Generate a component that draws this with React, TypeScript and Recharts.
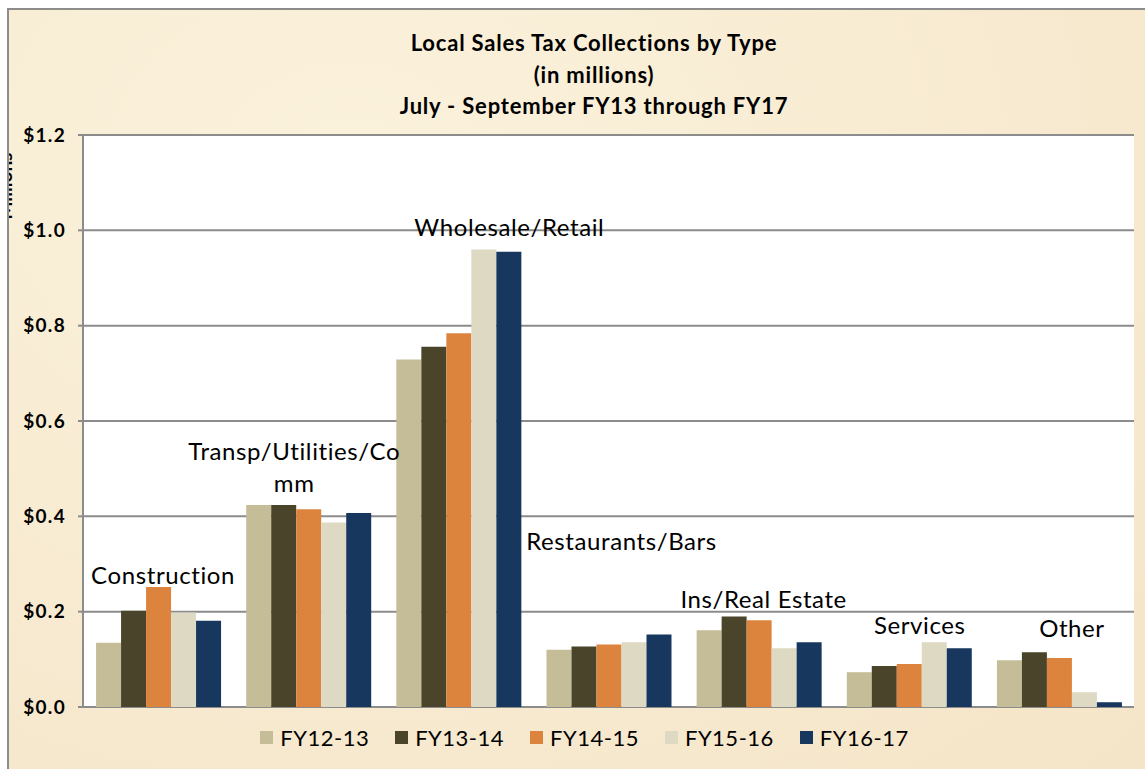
import React from 'react';
import { BarChart, Bar, XAxis, YAxis, CartesianGrid, Legend, ReferenceDot } from 'recharts';

const categories = ['Construction', 'Transp/Utilities/Comm', 'Wholesale/Retail', 'Restaurants/Bars', 'Ins/Real Estate', 'Services', 'Other'];
const fy1213 = [0.135, 0.424, 0.729, 0.120, 0.161, 0.073, 0.098];
const fy1314 = [0.202, 0.424, 0.756, 0.127, 0.190, 0.086, 0.115];
const fy1415 = [0.252, 0.415, 0.784, 0.131, 0.182, 0.090, 0.103];
const fy1516 = [0.198, 0.387, 0.960, 0.136, 0.123, 0.136, 0.031];
const fy1617 = [0.181, 0.407, 0.955, 0.152, 0.136, 0.123, 0.010];
const yTicks = [0, 0.2, 0.4, 0.6, 0.8, 1.0, 1.2];

// category-name labels as Excel placed them (level in $M, wrapped lines)
const labelLevels = [0.279, 0.505, 1.009, 0.350, 0.227, 0.174, 0.166];
const labelLines = [['Construction'], ['Transp/Utilities/Co', 'mm'], ['Wholesale/Retail'], ['Restaurants/Bars'], ['Ins/Real Estate'], ['Services'], ['Other']];
// horizontal nudge of those labels, px
const labelShift = [5, -14, 51, 13, 5, 11, 13];

const series = [
  { key: 'fy1213', name: 'FY12-13', color: '#C4BD97' },
  { key: 'fy1314', name: 'FY13-14', color: '#4A452A' },
  { key: 'fy1415', name: 'FY14-15', color: '#DC843E' },
  { key: 'fy1516', name: 'FY15-16', color: '#DDD9C3' },
  { key: 'fy1617', name: 'FY16-17', color: '#17375E' },
];

const data = categories.map((c, i) => ({
  category: c,
  fy1213: fy1213[i],
  fy1314: fy1314[i],
  fy1415: fy1415[i],
  fy1516: fy1516[i],
  fy1617: fy1617[i],
}));

const FONT = 'Lato, "Open Sans", sans-serif';
const GRID = '#8c8c8c';

const CategoryLabel = ({ cx, cy, lines, dx }: { cx: number; cy: number; lines: string[]; dx: number }) => (
  <g>
    {lines.map((t, k) => (
      <text
        key={t}
        x={cx + dx}
        y={cy + (k - (lines.length - 1) / 2) * 32}
        textAnchor="middle"
        dominantBaseline="central"
        fontFamily={FONT}
        fontSize={24}
        letterSpacing={0.6}
        fill="#000"
      >
        {t}
      </text>
    ))}
  </g>
);

const LegendBox = () => (
  <div
    style={{
      display: 'flex', justifyContent: 'center', alignItems: 'center', gap: 26,
      height: 50, paddingTop: 10, paddingLeft: 26, boxSizing: 'border-box',
      fontFamily: FONT, fontSize: 22, letterSpacing: 0.5, color: '#000',
    }}
  >
    {series.map((s) => (
      <span key={s.key} style={{ display: 'flex', alignItems: 'center' }}>
        <span style={{ width: 13, height: 13, background: s.color, marginRight: 7, display: 'inline-block' }} />
        {s.name}
      </span>
    ))}
  </div>
);

const App: React.FC = () => (
  <div
    style={{
      position: 'absolute', left: 7, top: 8, width: 1138, height: 761, overflow: 'hidden',
      background: 'radial-gradient(ellipse at 30% 20%, #fbf2dc 0%, #f7ead0 60%, #f5e5c8 100%)',
      borderLeft: `2px solid ${GRID}`, borderTop: `2px solid ${GRID}`, boxSizing: 'border-box',
    }}
  >
    <BarChart
      width={1136}
      height={759}
      data={data}
      margin={{ top: 125, right: 11, left: 0, bottom: 12 }}
      barCategoryGap="8.7%"
      barGap={0}
    >
      <CartesianGrid vertical={false} stroke={GRID} strokeWidth={2} fill="#fff" />
      <XAxis dataKey="category" tick={false} tickLine={false} height={0} axisLine={{ stroke: GRID, strokeWidth: 2 }} />
      <YAxis
        width={74}
        domain={[0, 1.2]}
        ticks={yTicks}
        interval={0}
        tickFormatter={(v: number) => `$${v.toFixed(1)}`}
        tick={{ fontFamily: FONT, fontSize: 19, fontWeight: 700, fill: '#000', letterSpacing: 1.3 }}
        tickSize={5}
        tickMargin={12}
        tickLine={{ stroke: GRID, strokeWidth: 2 }}
        axisLine={{ stroke: GRID, strokeWidth: 2 }}
        label={{
          content: () => (
            <text transform="rotate(-90, 3, 176)" x={3} y={176} textAnchor="middle" fontFamily={FONT} fontSize={19} fontWeight={700} fill="#000">
              Millions
            </text>
          ),
        }}
      />
      <Legend verticalAlign="bottom" content={LegendBox} />
      {series.map((s) => (
        <Bar key={s.key} dataKey={s.key} name={s.name} fill={s.color} isAnimationActive={false} />
      ))}
      {categories.map((c, i) => (
        <ReferenceDot
          key={c}
          x={c}
          y={labelLevels[i]}
          r={1}
          ifOverflow="visible"
          shape={(p: any) => <CategoryLabel cx={p.cx} cy={p.cy} lines={labelLines[i]} dx={labelShift[i]} />}
        />
      ))}
    </BarChart>
    <div
      style={{
        position: 'absolute', left: 0, top: 17, width: 1170, textAlign: 'center',
        fontFamily: FONT, fontWeight: 700, fontSize: 22, letterSpacing: 0.8, lineHeight: '31.5px', color: '#000',
      }}
    >
      <div>Local Sales Tax Collections by Type</div>
      <div>(in millions)</div>
      <div>July - September FY13 through FY17</div>
    </div>
  </div>
);

export default App;
